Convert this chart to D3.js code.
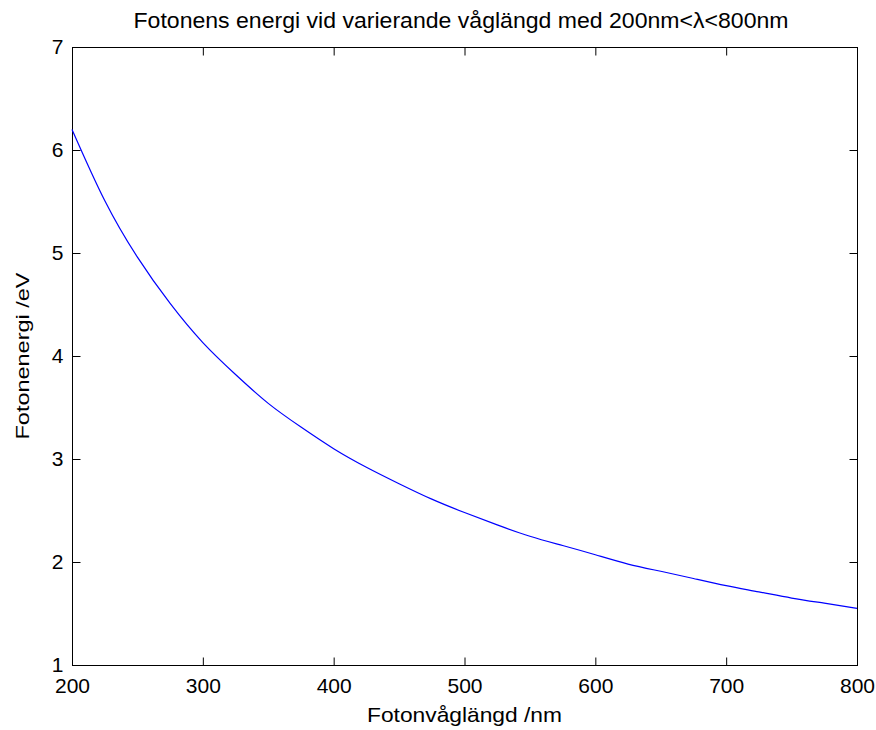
<!DOCTYPE html>
<html>
<head>
<meta charset="utf-8">
<script src="https://cdn.jsdelivr.net/npm/d3@7"></script>
<style>
    body { margin: 0; background: #fff; }
    text { font-family: "Liberation Sans", Arial, sans-serif; fill: #000; }
</style>
</head>
<body>
<svg id="chart" width="876" height="730"></svg>
<script>
// Wavelength samples (nm) and photon energy (eV)
const wavelengths = [200, 225, 250, 275, 300, 325, 350, 375, 400, 425, 450, 475, 500,
                     525, 550, 575, 600, 625, 650, 675, 700, 725, 750, 775, 800];
const energies = [6.20, 5.51, 4.96, 4.51, 4.13, 3.82, 3.54, 3.31, 3.10, 2.92, 2.76, 2.61, 2.48,
                  2.36, 2.25, 2.16, 2.07, 1.98, 1.91, 1.84, 1.77, 1.71, 1.65, 1.60, 1.55];

const xTicks = [200, 300, 400, 500, 600, 700, 800];
const yTicks = [1, 2, 3, 4, 5, 6, 7];

const titleText = 'Fotonens energi vid varierande våglängd med 200nm<λ<800nm';
const xLabel = 'Fotonvåglängd /nm';
const yLabel = 'Fotonenergi /eV';

const margin = { top: 47, right: 19, bottom: 65, left: 72 };
const width = 876 - margin.left - margin.right;
const height = 730 - margin.top - margin.bottom;

const svg = d3.select('#chart');
const g = svg.append('g')
    .attr('transform', `translate(${margin.left},${margin.top})`);

const x = d3.scaleLinear().domain([200, 800]).range([0, width]);
const y = d3.scaleLinear().domain([1, 7]).range([height, 0]);

// Box
g.append('rect')
    .attr('x', 0.5).attr('y', 0.5)
    .attr('width', width).attr('height', height)
    .attr('fill', '#fff')
    .attr('stroke', '#000')
    .attr('stroke-width', 1);

// MATLAB style inward ticks on all four sides
const tickLen = 8;
const tickFont = '21px';

function styleAxis(sel) {
    sel.select('.domain').remove();
    sel.selectAll('.tick line').attr('stroke', '#000');
    sel.selectAll('.tick text').style('font-size', tickFont).attr('fill', '#000');
}

g.append('g')
    .attr('transform', `translate(0,${height + 0.5})`)
    .call(d3.axisBottom(x).tickValues(xTicks).tickSize(-tickLen).tickPadding(13).tickFormat(d3.format('d')))
    .call(styleAxis);

g.append('g')
    .attr('transform', 'translate(0,0.5)')
    .call(d3.axisTop(x).tickValues(xTicks).tickSize(-tickLen).tickFormat(''))
    .call(styleAxis);

g.append('g')
    .attr('transform', 'translate(0.5,0)')
    .call(d3.axisLeft(y).tickValues(yTicks).tickSize(-tickLen).tickPadding(9).tickFormat(d3.format('d')))
    .call(styleAxis);

g.append('g')
    .attr('transform', `translate(${width + 0.5},0)`)
    .call(d3.axisRight(y).tickValues(yTicks).tickSize(-tickLen).tickFormat(''))
    .call(styleAxis);

// Curve
const points = wavelengths.map((w, i) => ({ w, e: energies[i] }));
const line = d3.line()
    .x(d => x(d.w))
    .y(d => y(d.e))
    .curve(d3.curveNatural);

g.append('path')
    .datum(points)
    .attr('d', line)
    .attr('fill', 'none')
    .attr('stroke', '#0000ff')
    .attr('stroke-width', 1.2);

// Title and labels
svg.append('text')
    .attr('x', 461)
    .attr('y', 28)
    .attr('text-anchor', 'middle')
    .attr('textLength', 655)
    .attr('lengthAdjust', 'spacingAndGlyphs')
    .style('font-size', '22px')
    .text(titleText);

svg.append('text')
    .attr('x', margin.left + width / 2)
    .attr('y', 722)
    .attr('text-anchor', 'middle')
    .attr('textLength', 195)
    .attr('lengthAdjust', 'spacingAndGlyphs')
    .style('font-size', '21px')
    .text(xLabel);

svg.append('text')
    .attr('transform', `translate(29,${margin.top + height / 2}) rotate(-90)`)
    .attr('text-anchor', 'middle')
    .attr('textLength', 167)
    .attr('lengthAdjust', 'spacingAndGlyphs')
    .style('font-size', '19px')
    .text(yLabel);
</script>
</body>
</html>
